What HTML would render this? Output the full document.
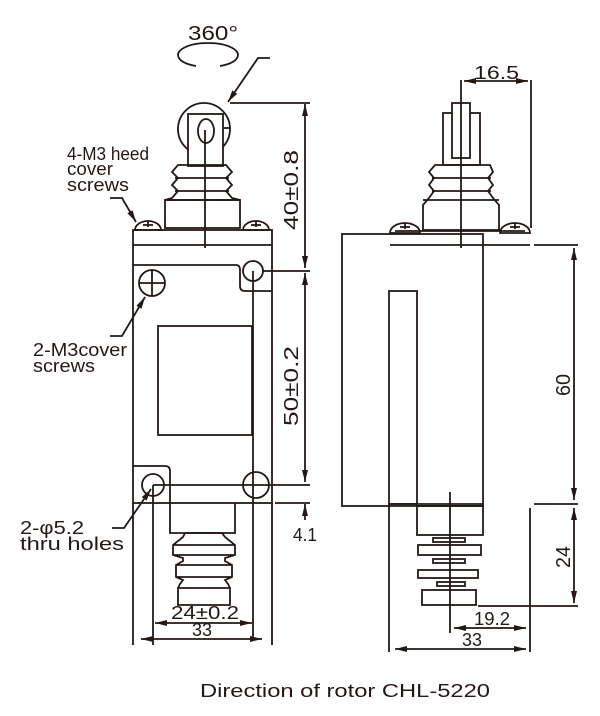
<!DOCTYPE html>
<html><head><meta charset="utf-8"><style>
html,body{margin:0;padding:0;background:#fff;}
svg{display:block;}
text{font-family:"Liberation Sans Narrow","Liberation Sans",sans-serif;fill:#231815;}
</style></head><body>
<svg width="600" height="716" viewBox="0 0 600 716" xmlns="http://www.w3.org/2000/svg">
<defs>
<marker id="a" viewBox="0 0 12 6" refX="12" refY="3" markerWidth="12" markerHeight="6" orient="auto-start-reverse" markerUnits="userSpaceOnUse"><path d="M0,0 L12,3 L0,6 Z" fill="#231815"/></marker>
</defs>
<g stroke="#231815" stroke-width="1.8" fill="none">
<path d="M196,66 A30,12 0 1,1 220,66"/>
<circle cx="204" cy="129" r="26"/>
<rect x="188" y="114" width="35" height="52" fill="#fff"/>
<ellipse cx="206" cy="131" rx="8" ry="12"/>
<line x1="223" y1="128" x2="230" y2="128"/>
<path d="M188,165 L226,165 L232,172 L226,178 L232,185 L226,191 L232,198 L240,200 L165,200 L172,198 L178,191 L172,185 L178,178 L172,172 L178,165 Z"/>
<line x1="175" y1="178" x2="229" y2="178"/><line x1="175" y1="191" x2="229" y2="191"/>
<rect x="165" y="200" width="75" height="28"/>
<path d="M135,230 A13,9 0 0,1 161,230 Z"/><path d="M243,230 A13,9 0 0,1 269,230 Z"/>
<line x1="148" y1="221" x2="148" y2="227"/><line x1="143" y1="225" x2="153" y2="225"/>
<line x1="256" y1="221" x2="256" y2="227"/><line x1="251" y1="225" x2="261" y2="225"/>
<rect x="133" y="230" width="139" height="273"/>
<line x1="133" y1="245" x2="272" y2="245"/>
<path d="M133,265 L236,265 Q240,265 240,270 L240,286 Q240,291 245,291 L272,291"/>
<circle cx="253" cy="271" r="10"/>
<circle cx="152" cy="283" r="13"/>
<line x1="139" y1="283" x2="165" y2="283"/><line x1="152" y1="270" x2="152" y2="296"/>
<rect x="158" y="326" width="94" height="109"/>
<line x1="253" y1="271" x2="253" y2="640"/>
<path d="M133,466 L165,466 Q170,466 170,471 L170,533 L235,533 L235,503"/>
<circle cx="153" cy="485" r="11"/>
<circle cx="256" cy="485" r="13"/>
<line x1="153" y1="485" x2="310" y2="485"/>
<line x1="275" y1="503" x2="310" y2="503"/>
<line x1="153" y1="485" x2="153" y2="645"/>
<line x1="133" y1="503" x2="133" y2="645"/>
<line x1="272" y1="503" x2="272" y2="645"/>
<path d="M185,533 L222,533 L225,537 L235,545 L235,555 L225,558 L225,561 L232,565 L232,577 L225,580 L228,584 L230,588 L230,605 L178,605 L178,588 L180,584 L183,580 L176,577 L176,565 L183,561 L183,558 L173,555 L173,545 L183,537 Z"/>
<line x1="173" y1="545" x2="235" y2="545"/><line x1="173" y1="555" x2="235" y2="555"/>
<line x1="176" y1="565" x2="232" y2="565"/><line x1="176" y1="577" x2="232" y2="577"/>
<line x1="178" y1="588" x2="230" y2="588"/>
<line x1="205" y1="130" x2="205" y2="248"/>
<polyline points="270,58 258,58 228,102" marker-end="url(#a)"/>
<line x1="230" y1="103" x2="310" y2="103"/>
<polyline points="110,198 122,198 136,222" marker-end="url(#a)"/>
<polyline points="110,336 122,336 145,297" marker-end="url(#a)"/>
<polyline points="112,528 124,528 151,489" marker-end="url(#a)"/>
<line x1="305" y1="104" x2="305" y2="268" marker-start="url(#a)" marker-end="url(#a)"/>
<line x1="262" y1="271" x2="310" y2="271"/>
<line x1="305" y1="273" x2="305" y2="482" marker-start="url(#a)" marker-end="url(#a)"/>
<line x1="305" y1="520" x2="305" y2="504" marker-end="url(#a)"/>
<line x1="155" y1="623" x2="252" y2="623" marker-start="url(#a)" marker-end="url(#a)"/>
<line x1="141" y1="639" x2="262" y2="639" marker-start="url(#a)" marker-end="url(#a)"/>

<rect x="443" y="113" width="37" height="52"/>
<rect x="452" y="103" width="18" height="55" fill="#fff"/>
<path d="M435,165 L490,165 L493,172 L488,178 L493,185 L488,191 L493,198 L499,205 L499,230 L423,230 L423,205 L429,198 L434,191 L429,185 L434,178 L429,172 Z"/>
<line x1="432" y1="178" x2="491" y2="178"/><line x1="432" y1="191" x2="491" y2="191"/>
<line x1="423" y1="200" x2="499" y2="200"/>
<path d="M390,233 A15,10 0 0,1 420,233 Z"/><path d="M500,233 A15,10 0 0,1 530,233 Z"/>
<line x1="405" y1="223" x2="405" y2="229"/><line x1="400" y1="227" x2="410" y2="227"/>
<line x1="515" y1="223" x2="515" y2="229"/><line x1="510" y1="227" x2="520" y2="227"/>
<line x1="395" y1="231" x2="525" y2="231"/>
<rect x="342" y="234" width="141" height="272"/>
<rect x="389" y="291" width="28" height="213"/>
<line x1="389" y1="504" x2="483" y2="504"/>
<line x1="390" y1="245" x2="530" y2="245"/>
<line x1="534" y1="245" x2="578" y2="245"/>
<line x1="461" y1="80" x2="461" y2="248"/>
<line x1="531" y1="80" x2="531" y2="228"/>
<line x1="464" y1="81" x2="528" y2="81" marker-start="url(#a)" marker-end="url(#a)"/>
<line x1="574" y1="248" x2="574" y2="500" marker-start="url(#a)" marker-end="url(#a)"/>
<line x1="534" y1="504" x2="578" y2="504"/>
<rect x="417" y="506" width="66" height="29"/>
<rect x="433" y="538" width="32" height="4"/>
<rect x="418" y="545" width="63" height="10"/>
<rect x="433" y="559" width="32" height="4"/>
<rect x="418" y="570" width="60" height="8"/>
<rect x="437" y="582" width="28" height="4"/>
<rect x="422" y="590" width="54" height="15"/>
<line x1="450" y1="492" x2="450" y2="633"/>
<line x1="389" y1="504" x2="389" y2="652"/>
<line x1="530" y1="508" x2="530" y2="652"/>
<line x1="478" y1="606" x2="578" y2="606"/>
<line x1="574" y1="508" x2="574" y2="603" marker-start="url(#a)" marker-end="url(#a)"/>
<line x1="454" y1="628" x2="526" y2="628" marker-start="url(#a)" marker-end="url(#a)"/>
<line x1="395" y1="649" x2="526" y2="649" marker-start="url(#a)" marker-end="url(#a)"/>
</g>
<g font-size="18">
<text x="188" y="40" font-size="20" textLength="50" lengthAdjust="spacingAndGlyphs">360°</text>
<text x="67" y="160" textLength="82" lengthAdjust="spacingAndGlyphs">4-M3 heed</text>
<text x="67" y="175" textLength="46" lengthAdjust="spacingAndGlyphs">cover</text>
<text x="67" y="191" textLength="62" lengthAdjust="spacingAndGlyphs">screws</text>
<text x="33" y="356" textLength="94" lengthAdjust="spacingAndGlyphs">2-M3cover</text>
<text x="33" y="372" textLength="62" lengthAdjust="spacingAndGlyphs">screws</text>
<text x="20" y="534" textLength="64" lengthAdjust="spacingAndGlyphs">2-φ5.2</text>
<text x="20" y="550" textLength="104" lengthAdjust="spacingAndGlyphs">thru holes</text>
<text transform="translate(298,230) rotate(-90)" font-size="20" textLength="80" lengthAdjust="spacingAndGlyphs">40±0.8</text>
<text transform="translate(298,426) rotate(-90)" font-size="20" textLength="80" lengthAdjust="spacingAndGlyphs">50±0.2</text>
<text x="293" y="541" textLength="24" lengthAdjust="spacingAndGlyphs">4.1</text>
<text x="171" y="619" textLength="68" lengthAdjust="spacingAndGlyphs">24±0.2</text>
<text x="192" y="636" textLength="20" lengthAdjust="spacingAndGlyphs">33</text>
<text x="474" y="79" textLength="45" lengthAdjust="spacingAndGlyphs">16.5</text>
<text transform="translate(570,396) rotate(-90)" font-size="20" textLength="22" lengthAdjust="spacingAndGlyphs">60</text>
<text transform="translate(570,568) rotate(-90)" font-size="20" textLength="22" lengthAdjust="spacingAndGlyphs">24</text>
<text x="474" y="625" textLength="36" lengthAdjust="spacingAndGlyphs">19.2</text>
<text x="462" y="646" textLength="20" lengthAdjust="spacingAndGlyphs">33</text>
<text x="200" y="697" font-size="18" textLength="290" lengthAdjust="spacingAndGlyphs">Direction of rotor CHL-5220</text>
</g>
</svg>
</body></html>
